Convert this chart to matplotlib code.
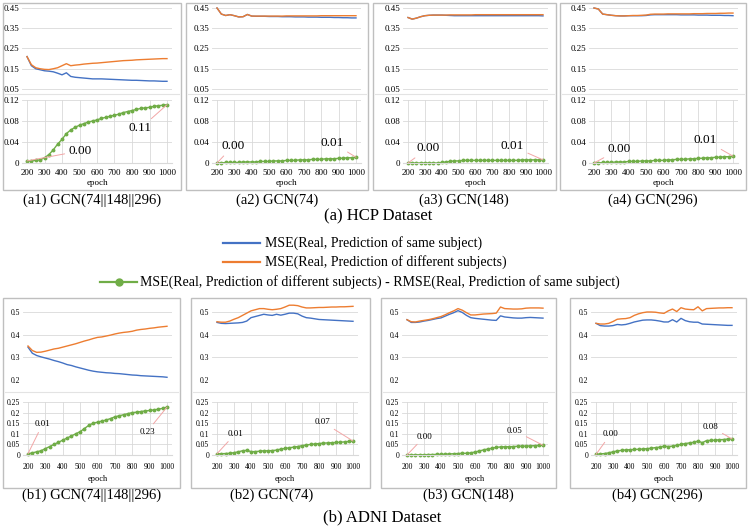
import numpy as np
import matplotlib
matplotlib.use("Agg")
import matplotlib.pyplot as plt
from matplotlib.lines import Line2D
from matplotlib.patches import Rectangle

plt.rcParams['font.family'] = ['Liberation Serif', 'DejaVu Serif']

W, H = 750, 527

# epochs on the x axis
epochs = [200, 225, 250, 275, 300, 325, 350, 375, 400, 425, 450, 475, 500, 525, 550, 575, 600,
          625, 650, 675, 700, 725, 750, 775, 800, 825, 850, 875, 900, 925, 950, 975, 1000]
xticks = [200, 300, 400, 500, 600, 700, 800, 900, 1000]

# ---- HCP ----
a1_same = [0.21, 0.165, 0.15, 0.145, 0.14, 0.138, 0.135, 0.128, 0.12, 0.13, 0.112, 0.108, 0.106, 0.104, 0.102, 0.1, 0.1,
           0.1, 0.099, 0.098, 0.097, 0.096, 0.095, 0.094, 0.093, 0.093, 0.092, 0.091, 0.09, 0.09, 0.089, 0.088, 0.088]
a1_diff = [0.21, 0.17, 0.155, 0.15, 0.147, 0.146, 0.15, 0.155, 0.165, 0.175, 0.165, 0.168, 0.17, 0.173, 0.175, 0.177, 0.178,
           0.18, 0.182, 0.184, 0.186, 0.188, 0.19, 0.191, 0.192, 0.194, 0.195, 0.196, 0.197, 0.198, 0.199, 0.2, 0.2]
a1_gap = [0.004, 0.004, 0.005, 0.006, 0.01, 0.016, 0.025, 0.036, 0.045, 0.056, 0.063, 0.068, 0.072, 0.075, 0.078, 0.08, 0.082,
          0.085, 0.087, 0.089, 0.091, 0.093, 0.096, 0.098, 0.1, 0.102, 0.104, 0.105, 0.106, 0.108, 0.109, 0.11, 0.111]

a2_same = [0.45, 0.42, 0.413, 0.417, 0.412, 0.406, 0.407, 0.418, 0.41, 0.409, 0.409, 0.409, 0.408, 0.408, 0.408, 0.407, 0.407,
           0.407, 0.406, 0.406, 0.406, 0.405, 0.405, 0.405, 0.404, 0.404, 0.404, 0.403, 0.403, 0.402, 0.402, 0.401, 0.401]
a2_diff = [0.45, 0.42, 0.413, 0.417, 0.412, 0.406, 0.407, 0.418, 0.41, 0.41, 0.41, 0.41, 0.41, 0.41, 0.41, 0.41, 0.411,
           0.411, 0.411, 0.411, 0.411, 0.411, 0.411, 0.411, 0.412, 0.412, 0.412, 0.412, 0.412, 0.412, 0.412, 0.412, 0.412]
a2_gap = [0.0, 0.0, 0.001, 0.001, 0.001, 0.001, 0.002, 0.002, 0.002, 0.002, 0.003, 0.003, 0.003, 0.004, 0.004, 0.004, 0.005,
          0.005, 0.005, 0.006, 0.006, 0.006, 0.007, 0.007, 0.007, 0.008, 0.008, 0.008, 0.009, 0.009, 0.01, 0.01, 0.011]

a3_same = [0.403, 0.395, 0.4, 0.407, 0.412, 0.414, 0.415, 0.415, 0.415, 0.414, 0.413, 0.412, 0.412, 0.412, 0.412, 0.412, 0.412,
           0.412, 0.412, 0.412, 0.412, 0.412, 0.412, 0.412, 0.412, 0.412, 0.412, 0.412, 0.412, 0.412, 0.412, 0.412, 0.411]
a3_diff = [0.403, 0.395, 0.4, 0.407, 0.412, 0.414, 0.415, 0.415, 0.415, 0.415, 0.416, 0.416, 0.416, 0.416, 0.416, 0.416, 0.417,
           0.417, 0.417, 0.417, 0.417, 0.417, 0.417, 0.417, 0.417, 0.417, 0.417, 0.417, 0.417, 0.417, 0.417, 0.417, 0.417]
a3_gap = [0.0, 0.0, 0.0, 0.0, 0.0, 0.0, 0.0, 0.0, 0.001, 0.002, 0.003, 0.004, 0.004, 0.005, 0.005, 0.005, 0.005,
          0.005, 0.005, 0.005, 0.005, 0.005, 0.005, 0.005, 0.005, 0.005, 0.005, 0.006, 0.006, 0.006, 0.006, 0.006, 0.006]

a4_same = [0.45, 0.445, 0.42, 0.417, 0.414, 0.412, 0.411, 0.411, 0.412, 0.412, 0.412, 0.412, 0.413, 0.416, 0.417, 0.417, 0.417,
           0.417, 0.417, 0.417, 0.416, 0.416, 0.416, 0.416, 0.415, 0.415, 0.415, 0.414, 0.414, 0.414, 0.413, 0.413, 0.412]
a4_diff = [0.45, 0.445, 0.42, 0.417, 0.414, 0.412, 0.411, 0.411, 0.412, 0.413, 0.413, 0.414, 0.415, 0.419, 0.42, 0.42, 0.42,
           0.421, 0.421, 0.421, 0.421, 0.421, 0.421, 0.422, 0.422, 0.422, 0.423, 0.423, 0.423, 0.424, 0.424, 0.425, 0.425]
a4_gap = [0.0, 0.0, 0.001, 0.001, 0.001, 0.002, 0.002, 0.002, 0.003, 0.003, 0.003, 0.004, 0.004, 0.004, 0.005, 0.005, 0.005,
          0.006, 0.006, 0.007, 0.007, 0.007, 0.008, 0.008, 0.009, 0.009, 0.01, 0.01, 0.011, 0.011, 0.012, 0.012, 0.013]

# ---- ADNI ----
b1_same = [0.345, 0.318, 0.308, 0.302, 0.297, 0.292, 0.286, 0.281, 0.275, 0.268, 0.264, 0.258, 0.253, 0.248, 0.243, 0.239, 0.236,
           0.234, 0.232, 0.231, 0.229, 0.228, 0.226, 0.224, 0.222, 0.221, 0.219, 0.218, 0.217, 0.216, 0.215, 0.214, 0.212]
b1_diff = [0.35, 0.33, 0.322, 0.323, 0.327, 0.332, 0.337, 0.34, 0.345, 0.35, 0.355, 0.36, 0.366, 0.372, 0.377, 0.383, 0.388,
           0.39, 0.394, 0.398, 0.403, 0.407, 0.41, 0.412, 0.415, 0.42, 0.423, 0.425, 0.428, 0.43, 0.433, 0.435, 0.437]
b1_gap = [0.006, 0.01, 0.015, 0.02, 0.03, 0.04, 0.05, 0.06, 0.07, 0.08, 0.09, 0.1, 0.11, 0.125, 0.14, 0.15, 0.155,
          0.16, 0.165, 0.172, 0.18, 0.185, 0.19, 0.195, 0.2, 0.202, 0.205, 0.208, 0.21, 0.213, 0.216, 0.22, 0.226]

b2_same = [0.454, 0.45, 0.449, 0.45, 0.451, 0.452, 0.454, 0.46, 0.475, 0.48, 0.485, 0.49, 0.487, 0.485, 0.49, 0.486, 0.49,
           0.495, 0.495, 0.492, 0.482, 0.475, 0.473, 0.47, 0.467, 0.466, 0.465, 0.464, 0.463, 0.462, 0.461, 0.46, 0.459]
b2_diff = [0.457, 0.455, 0.455, 0.46, 0.468, 0.475, 0.485, 0.495, 0.505, 0.51, 0.515, 0.515, 0.512, 0.51, 0.512, 0.515, 0.522,
           0.53, 0.53, 0.528, 0.522, 0.518, 0.518, 0.519, 0.52, 0.52, 0.521, 0.522, 0.522, 0.523, 0.523, 0.524, 0.525]
b2_gap = [0.006, 0.006, 0.007, 0.008, 0.011, 0.015, 0.02, 0.022, 0.016, 0.016, 0.018, 0.02, 0.02, 0.021, 0.023, 0.028, 0.031,
          0.034, 0.037, 0.04, 0.044, 0.047, 0.05, 0.052, 0.054, 0.056, 0.057, 0.058, 0.059, 0.06, 0.062, 0.064, 0.066]

b3_same = [0.466, 0.454, 0.454, 0.456, 0.46, 0.463, 0.467, 0.471, 0.474, 0.482, 0.49, 0.497, 0.506, 0.498, 0.485, 0.475, 0.472,
           0.47, 0.468, 0.466, 0.464, 0.463, 0.483, 0.478, 0.476, 0.474, 0.473, 0.473, 0.475, 0.476, 0.475, 0.474, 0.473]
b3_diff = [0.466, 0.457, 0.456, 0.46, 0.463, 0.466, 0.47, 0.475, 0.48, 0.488, 0.497, 0.505, 0.515, 0.508, 0.497, 0.487, 0.487,
           0.489, 0.491, 0.492, 0.493, 0.495, 0.522, 0.515, 0.514, 0.513, 0.513, 0.514, 0.517, 0.518, 0.518, 0.518, 0.517]
b3_gap = [0.0, 0.0, 0.001, 0.001, 0.001, 0.002, 0.002, 0.003, 0.003, 0.004, 0.005, 0.006, 0.007, 0.008, 0.008, 0.01, 0.014,
          0.019, 0.024, 0.028, 0.032, 0.036, 0.038, 0.039, 0.039, 0.04, 0.041, 0.042, 0.042, 0.043, 0.044, 0.045, 0.046]

b4_same = [0.45, 0.44, 0.438, 0.438, 0.44, 0.445, 0.443, 0.445, 0.45, 0.456, 0.46, 0.464, 0.465, 0.465, 0.463, 0.46, 0.456,
           0.456, 0.466, 0.456, 0.472, 0.462, 0.457, 0.455, 0.455, 0.447, 0.446, 0.445, 0.444, 0.443, 0.442, 0.441, 0.441]
b4_diff = [0.45, 0.447, 0.447, 0.45, 0.458, 0.468, 0.47, 0.471, 0.475, 0.485, 0.492, 0.497, 0.5, 0.5, 0.499, 0.496, 0.494,
           0.505, 0.513, 0.502, 0.519, 0.513, 0.511, 0.51, 0.523, 0.505, 0.515, 0.516, 0.517, 0.518, 0.518, 0.519, 0.519]
b4_gap = [0.003, 0.005, 0.007, 0.01, 0.015, 0.019, 0.022, 0.024, 0.025, 0.026, 0.027, 0.028, 0.03, 0.032, 0.035, 0.037, 0.042,
          0.04, 0.042, 0.046, 0.05, 0.054, 0.057, 0.06, 0.066, 0.058, 0.068, 0.069, 0.07, 0.072, 0.073, 0.075, 0.076]

BLUE = '#4472C4'
ORANGE = '#ED7D31'
GREEN = '#70AD47'
LEADER = '#F2A6A6'
GRID = '#D9D9D9'
BOXC = '#BFBFBF'

legend_labels = ['MSE(Real, Prediction of same subject)',
                 'MSE(Real, Prediction of different subjects)',
                 'MSE(Real, Prediction of different subjects) - RMSE(Real, Prediction of same subject)']

# row settings: pixel positions and scales
rows = {
    'a': dict(top_px=(8, 89), top_val=(0.45, 0.05), top_lim=(0.03, 0.47),
              top_ticks=[0.05, 0.15, 0.25, 0.35, 0.45], top_fmt='%.2f',
              bot_px=(100, 163), bot_lim=(0, 0.12), bot_ticks=[0, 0.04, 0.08, 0.12],
              box_y=(3, 190), divider=94, cap_y=200, tick_fs=6.5, ann_fs=9.5, lab_fs=6.5,
              xpad=4.5, lpad=1.5),
    'b': dict(top_px=(312, 380), top_val=(0.5, 0.2), top_lim=(0.2, 0.55),
              top_ticks=[0.2, 0.3, 0.4, 0.5], top_fmt='%.1f',
              bot_px=(402, 455), bot_lim=(0, 0.25), bot_ticks=[0, 0.05, 0.1, 0.15, 0.2, 0.25],
              box_y=(298, 488), divider=392, cap_y=495, tick_fs=5.5, ann_fs=6.5, lab_fs=6,
              xpad=5.5, lpad=3),
}

panels = [
    dict(row='a', cap='(a1) GCN(74||148||296)', cap_x=92, box_x=(3, 181), x200=27, x1000=167,
         same=a1_same, diff=a1_diff, gap=a1_gap, t0=(505, 0.023), t1=(848, 0.066)),
    dict(row='a', cap='(a2) GCN(74)', cap_x=277, box_x=(186, 368), x200=217, x1000=356,
         same=a2_same, diff=a2_diff, gap=a2_gap, t0=(292, 0.032), t1=(862, 0.039)),
    dict(row='a', cap='(a3) GCN(148)', cap_x=464, box_x=(373, 556), x200=408, x1000=543,
         same=a3_same, diff=a3_diff, gap=a3_gap, t0=(318, 0.028), t1=(817, 0.032)),
    dict(row='a', cap='(a4) GCN(296)', cap_x=653, box_x=(560, 746), x200=594, x1000=733,
         same=a4_same, diff=a4_diff, gap=a4_gap, t0=(346, 0.026), t1=(842, 0.043)),
    dict(row='b', cap='(b1) GCN(74||148||296)', cap_x=92, box_x=(3, 180), x200=28, x1000=167,
         same=b1_same, diff=b1_diff, gap=b1_gap, t0=(283, 0.144), t1=(885, 0.11)),
    dict(row='b', cap='(b2) GCN(74)', cap_x=272, box_x=(191, 370), x200=217, x1000=353,
         same=b2_same, diff=b2_diff, gap=b2_gap, t0=(308, 0.10), t1=(820, 0.156)),
    dict(row='b', cap='(b3) GCN(148)', cap_x=468, box_x=(381, 556), x200=407, x1000=543,
         same=b3_same, diff=b3_diff, gap=b3_gap, t0=(303, 0.087), t1=(832, 0.115)),
    dict(row='b', cap='(b4) GCN(296)', cap_x=657, box_x=(570, 746), x200=596, x1000=732,
         same=b4_same, diff=b4_diff, gap=b4_gap, t0=(285, 0.097), t1=(874, 0.134)),
]


def px_axes(fig, left, right, top, bottom):
    return fig.add_axes([left / W, 1 - bottom / H, (right - left) / W, (bottom - top) / H])


fig = plt.figure(figsize=(W / 100, H / 100), dpi=100)
fig.patch.set_facecolor('white')

XLIM = (170, 1030)

for p in panels:
    r = rows[p['row']]
    ppe = (p['x1000'] - p['x200']) / 800.0
    xl = p['x200'] - (200 - XLIM[0]) * ppe
    xr = p['x1000'] + (XLIM[1] - 1000) * ppe

    # panel frame
    bx0, bx1 = p['box_x']
    by0, by1 = r['box_y']
    fig.patches.append(Rectangle((bx0 / W, 1 - by1 / H), (bx1 - bx0) / W, (by1 - by0) / H,
                                 transform=fig.transFigure, fill=False, edgecolor=BOXC, lw=1.0))
    fig.lines.append(Line2D([(bx0 + 2) / W, (bx1 - 2) / W], [1 - r['divider'] / H] * 2,
                            transform=fig.transFigure, color='#E3E3E3', lw=0.8))

    # top chart
    pt, pb = r['top_px']
    vt, vb = r['top_val']
    ppv = (pb - pt) / (vt - vb)
    ax_top = px_axes(fig, xl, xr, pt - (r['top_lim'][1] - vt) * ppv, pb + (vb - r['top_lim'][0]) * ppv)
    ax_top.plot(epochs, p['same'], color=BLUE, lw=1.0)
    ax_top.plot(epochs, p['diff'], color=ORANGE, lw=1.0)
    ax_top.set_xlim(*XLIM)
    ax_top.set_ylim(*r['top_lim'])
    ax_top.set_yticks(r['top_ticks'])
    ax_top.set_yticklabels([r['top_fmt'] % v for v in r['top_ticks']])
    ax_top.set_xticks([])
    ax_top.grid(axis='y', color=GRID, lw=0.6)
    ax_top.set_axisbelow(True)
    for s in ax_top.spines.values():
        s.set_visible(False)
    ax_top.tick_params(axis='y', length=0, pad=2, labelsize=r['tick_fs'])
    ax_top.patch.set_alpha(0)

    # bottom chart
    bt, bb = r['bot_px']
    ax_bot = px_axes(fig, xl, xr, bt, bb)
    ax_bot.plot(epochs, p['gap'], color=GREEN, lw=1.0, marker='o', markersize=1.8, clip_on=False)
    ax_bot.set_xlim(*XLIM)
    ax_bot.set_ylim(*r['bot_lim'])
    ax_bot.set_yticks(r['bot_ticks'])
    ax_bot.set_yticklabels(['%g' % v for v in r['bot_ticks']])
    ax_bot.set_xticks(xticks)
    ax_bot.grid(color=GRID, lw=0.6)
    ax_bot.set_axisbelow(True)
    for name, s in ax_bot.spines.items():
        if name == 'bottom':
            s.set_color(GRID)
            s.set_linewidth(0.8)
        else:
            s.set_visible(False)
    ax_bot.tick_params(length=0, pad=2, labelsize=r['tick_fs'])
    ax_bot.tick_params(axis='x', pad=r['xpad'])
    ax_bot.set_xlabel('epoch', fontsize=r['lab_fs'], labelpad=r['lpad'])
    ax_bot.patch.set_alpha(0)

    # data labels on first and last points
    g = p['gap']
    for idx, txy in ((0, p['t0']), (-1, p['t1'])):
        ax_bot.annotate('%.2f' % g[idx], xy=(epochs[idx], g[idx]), xytext=txy,
                        ha='center', va='center', fontsize=r['ann_fs'],
                        arrowprops=dict(arrowstyle='-', color=LEADER, lw=0.7,
                                        shrinkA=1, shrinkB=0))

    fig.text(p['cap_x'] / W, 1 - r['cap_y'] / H, p['cap'], ha='center', va='center', fontsize=10.5)

fig.text(378 / W, 1 - 216 / H, '(a) HCP Dataset', ha='center', va='center', fontsize=12)
fig.text(382 / W, 1 - 517 / H, '(b) ADNI Dataset', ha='center', va='center', fontsize=12)

# shared legend
leg = [(223, 260, 243, BLUE, None, 265),
       (223, 260, 262, ORANGE, None, 265),
       (100, 137, 282, GREEN, 'o', 140)]
for (x0, x1, y, c, m, tx), lab in zip(leg, legend_labels):
    fig.lines.append(Line2D([x0 / W, x1 / W], [1 - y / H] * 2, transform=fig.transFigure,
                            color=c, lw=1.6))
    if m:
        fig.lines.append(Line2D([(x0 + x1) / 2 / W], [1 - y / H], transform=fig.transFigure,
                                color=c, marker=m, markersize=5, lw=0))
    fig.text(tx / W, 1 - y / H, lab, ha='left', va='center', fontsize=10)

fig.savefig('out.png', dpi=100)
